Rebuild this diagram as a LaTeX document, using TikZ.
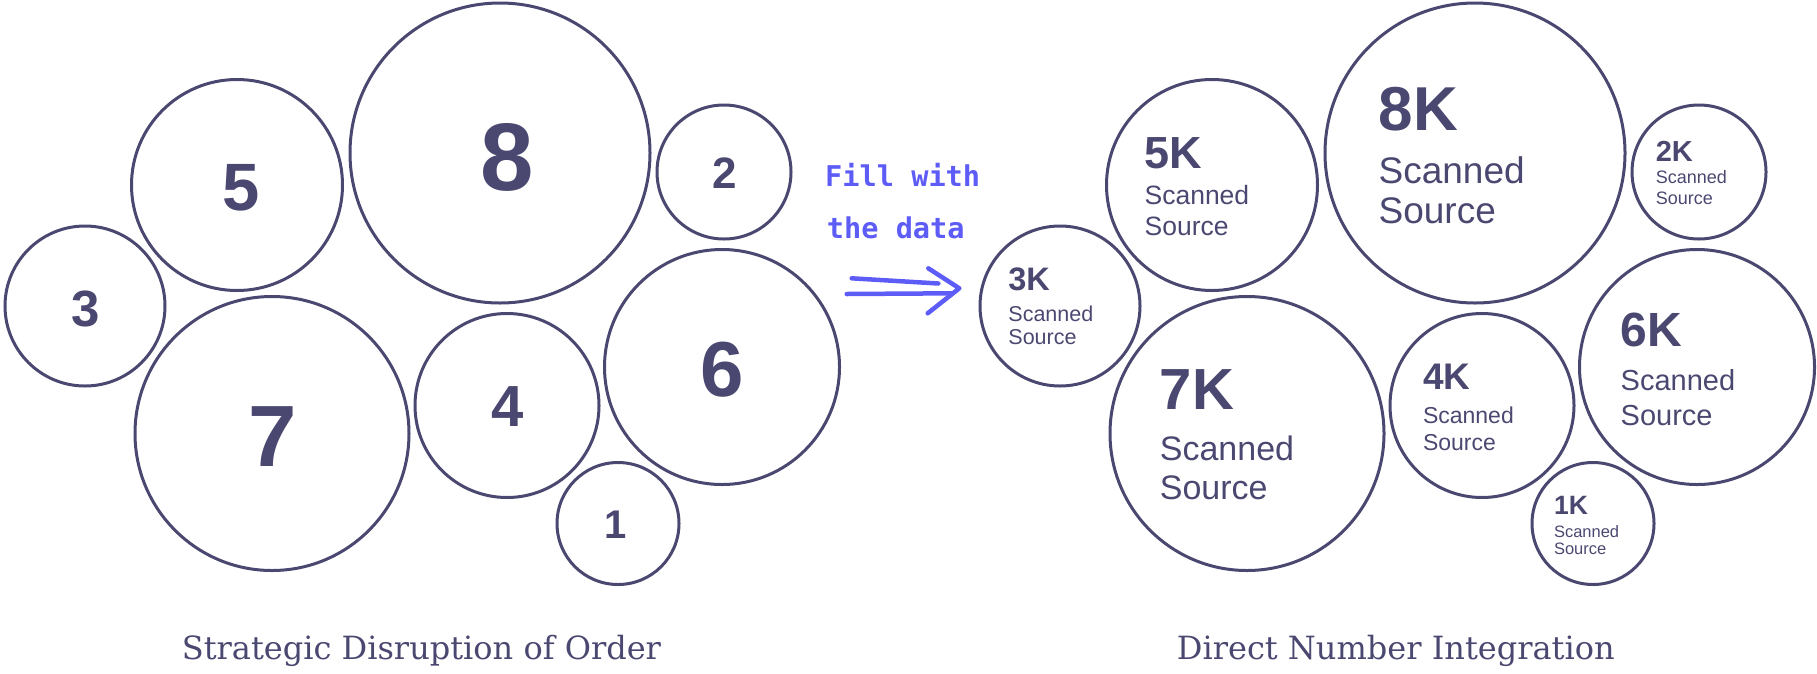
\documentclass[tikz,border=0pt]{standalone}
\usepackage{fontspec}
\setmainfont{Liberation Sans}
\newfontfamily\capfont{DejaVu Serif}
\newfontfamily\handfont{DejaVu Sans Mono}
\definecolor{ink}{RGB}{74,72,112}
\definecolor{hand}{RGB}{94,92,246}
\tikzset{
  bub/.style={circle, draw=ink, line width=3pt, minimum size=#1, inner sep=0pt},
  dig/.style={text=ink, inner sep=0pt, font=\bfseries\fontsize{#1pt}{#1pt}\selectfont},
  knum/.style={text=ink, inner sep=0pt, anchor=base west, font=\bfseries\fontsize{#1pt}{#1pt}\selectfont},
  ktxt/.style={text=ink, inner sep=0pt, anchor=base west, font=\fontsize{#1pt}{#1pt}\selectfont},
  captxt/.style={text=ink, inner sep=0pt, anchor=base west, font=\capfont\fontsize{32pt}{32pt}\selectfont},
  handtxt/.style={text=hand, inner sep=0pt, anchor=base west, font=\handfont\bfseries\fontsize{28.6pt}{28.6pt}\selectfont},
  handline/.style={draw=hand, line width=4.5pt, line cap=round, line join=round}
}
\begin{document}
\begin{tikzpicture}[x=1pt,y=-1pt]
\useasboundingbox (0,0) rectangle (1817,673);
% left circles
\node[bub=300] (c8) at (500,153) {};
\node[bub=211] (c5) at (237,185) {};
\node[bub=134] (c2) at (724,172) {};
\node[bub=160] (c3) at (85,306) {};
\node[bub=274] (c7) at (272,433.5) {};
\node[bub=184] (c4) at (507,405.5) {};
\node[bub=235] (c6) at (722,367) {};
\node[bub=122] (c1) at (618,523.5) {};
% left digits
\node[dig=96] (d8) at (507,157) {8};
\node[dig=67] (d5) at (241,187.4) {5};
\node[dig=44] (d2) at (725,173) {2};
\node[dig=51] (d3) at (85.3,309) {3};
\node[dig=87] (d7) at (272.4,436.5) {7};
\node[dig=58] (d4) at (507.8,406.5) {4};
\node[dig=78] (d6) at (722.5,370) {6};
\node[dig=40] (d1) at (616,524.3) {1};
% right circles
\node[bub=300] (r8) at (1475,153) {};
\node[bub=211] (r5) at (1212,185) {};
\node[bub=134] (r2) at (1699,172) {};
\node[bub=160] (r3) at (1060,306) {};
\node[bub=274] (r7) at (1247,433.5) {};
\node[bub=184] (r4) at (1482,405.5) {};
\node[bub=235] (r6) at (1697,367) {};
\node[bub=122] (r1) at (1593,523.5) {};
% right texts
\node[knum=62] (k8) at (1378.4,130) {8K};
\node[ktxt=37] (k8a) at (1378.4,183.3) {Scanned};
\node[ktxt=37] (k8b) at (1378.4,223) {Source};
\node[knum=45] (k5) at (1144.4,168) {5K};
\node[ktxt=26.5] (k5a) at (1144.4,204.8) {Scanned};
\node[ktxt=26.5] (k5b) at (1144.4,235.3) {Source};
\node[knum=29] (k2) at (1655.6,161.3) {2K};
\node[ktxt=18] (k2a) at (1655.6,183.9) {Scanned};
\node[ktxt=18] (k2b) at (1655.6,204.4) {Source};
\node[knum=32.5] (k3) at (1008.2,290.6) {3K};
\node[ktxt=21.5] (k3a) at (1008.2,321) {Scanned};
\node[ktxt=21.5] (k3b) at (1008.2,344.8) {Source};
\node[knum=58] (k7) at (1159.7,409.2) {7K};
\node[ktxt=34] (k7a) at (1159.7,460.6) {Scanned};
\node[ktxt=34] (k7b) at (1159.7,499) {Source};
\node[knum=37] (k4) at (1422.8,389.5) {4K};
\node[ktxt=23] (k4a) at (1422.8,423.5) {Scanned};
\node[ktxt=23] (k4b) at (1422.8,450.7) {Source};
\node[knum=48] (k6) at (1620.5,346.8) {6K};
\node[ktxt=29] (k6a) at (1620.5,390.7) {Scanned};
\node[ktxt=29] (k6b) at (1620.5,425.8) {Source};
\node[knum=26.5] (k1) at (1553.8,514) {1K};
\node[ktxt=16.5] (k1a) at (1553.8,537) {Scanned};
\node[ktxt=16.5] (k1b) at (1553.8,554.4) {Source};
% hand label and arrow
\node[handtxt] (h1) at (825,186.7) {Fill with};
\node[handtxt] (h2) at (826.7,238.3) {the data};
\coordinate (l1s) at (851.7,278.3);
\coordinate (l1e) at (938.3,283.5);
\coordinate (l2s) at (846.7,294);
\coordinate (l2e) at (951.7,293.3);
\coordinate (hA) at (928.3,268.3);
\coordinate (hT) at (959.3,288.3);
\coordinate (hB) at (927.7,313.3);
\draw[handline] (l1s) -- (l1e);
\draw[handline] (l2s) -- (l2e);
\draw[handline] (hA) -- (hT) -- (hB);
% captions
\node[captxt] (cap1) at (181.7,659.3) {Strategic Disruption of Order};
\node[captxt] (cap2) at (1176.7,659.3) {Direct Number Integration};
\end{tikzpicture}
\end{document}
